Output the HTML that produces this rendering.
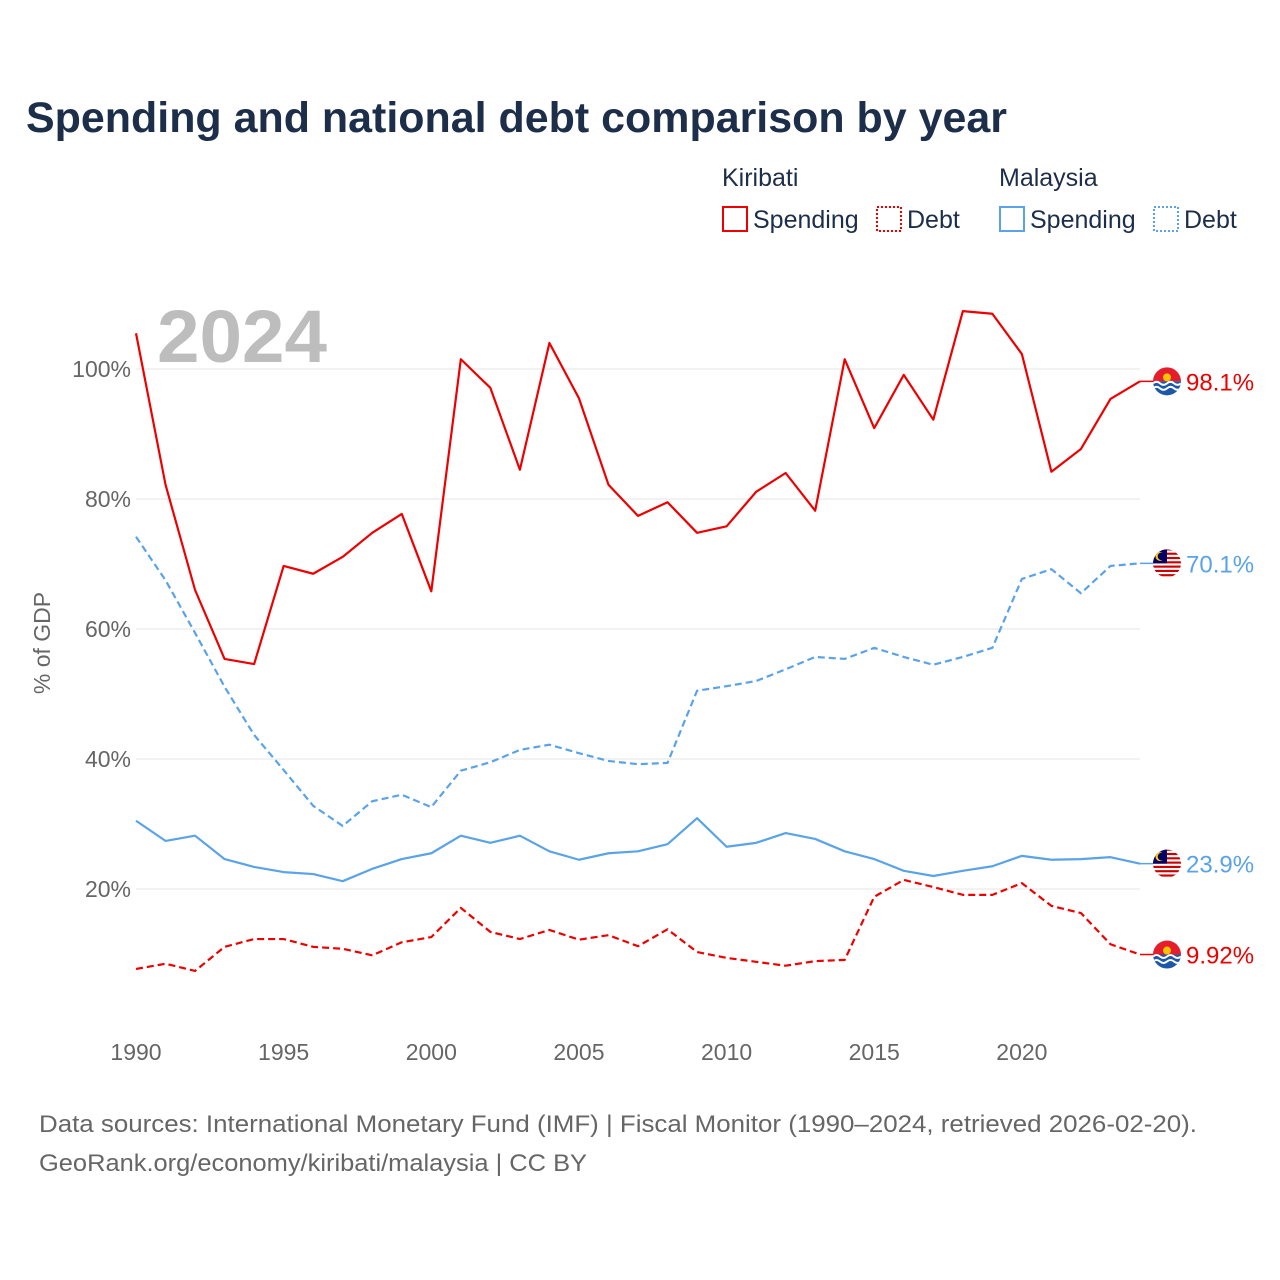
<!DOCTYPE html>
<html><head><meta charset="utf-8">
<style>
body{margin:0;background:#fff;font-family:"Liberation Sans",sans-serif}
#wrap{position:relative;width:1280px;height:1280px;overflow:hidden}
</style></head><body>
<div id="wrap">
<svg id="chart" width="1280" height="1280" xmlns="http://www.w3.org/2000/svg"></svg>
</div>
<script>
const years=[];for(let y=1990;y<=2024;y++)years.push(y);
const kirSpending=[105.5,82.2,66,55.4,54.6,69.7,68.5,71.1,74.8,77.7,65.8,101.5,97.1,84.5,104,95.5,82.2,77.4,79.5,74.8,75.8,81.1,84,78.2,101.5,90.9,99.1,92.2,108.9,108.5,102.3,84.2,87.7,95.4,98.1];
const kirDebt=[7.7,8.5,7.4,11.1,12.3,12.3,11.1,10.8,9.8,11.8,12.6,17.1,13.4,12.3,13.7,12.2,12.9,11.2,13.8,10.3,9.4,8.8,8.2,8.9,9.1,18.8,21.4,20.3,19.1,19.1,20.9,17.4,16.3,11.5,9.92];
const mysSpending=[30.5,27.4,28.2,24.6,23.4,22.6,22.3,21.2,23.1,24.6,25.5,28.2,27.1,28.2,25.8,24.5,25.5,25.8,26.9,30.9,26.5,27.1,28.6,27.7,25.8,24.6,22.8,22,22.8,23.5,25.1,24.5,24.6,24.9,23.9];
const mysDebt=[74.2,67.5,59.4,51.1,43.7,38.3,32.8,29.7,33.5,34.5,32.6,38.2,39.5,41.4,42.2,40.9,39.7,39.2,39.4,50.5,51.2,52,53.8,55.7,55.4,57.1,55.7,54.5,55.7,57.1,67.7,69.2,65.5,69.7,70.1];
const yTicks=[20,40,60,80,100];
const xTicks=[1990,1995,2000,2005,2010,2015,2020];
const endLabels=["98.1%","9.92%","23.9%","70.1%"];

const NS="http://www.w3.org/2000/svg";
const svg=document.getElementById('chart');
const X=y=>136+(y-1990)*(1140-136)/34;
const Y=v=>1019-v*6.5;
function el(t,a,p){const e=document.createElementNS(NS,t);for(const k in a)e.setAttribute(k,a[k]);(p||svg).appendChild(e);return e;}
function txt(s,a){const e=el('text',a);e.textContent=s;return e;}
const F='"Liberation Sans",sans-serif';

let t=txt("Spending and national debt comparison by year",{x:26,y:132,'font-size':43,'font-weight':'bold',fill:'#1c2e4a','font-family':F,textLength:981,lengthAdjust:'spacingAndGlyphs'});


const lg=[["Kiribati",722,"#e00"],["Malaysia",999,"#5aa3e8"]];
lg.forEach(([n,x,c],i)=>{
  let h=txt(n,{x:x,y:186,'font-size':25,fill:'#1c2e4a','font-family':F});
  
  let r=el('rect',{x:x+1,y:207,width:24,height:24,fill:'none',stroke:c,'stroke-width':2});
  
  let a=txt("Spending",{x:x+31,y:228,'font-size':25,fill:'#1c2e4a','font-family':F});
  
  let r2=el('rect',{x:x+155,y:207,width:24,height:24,fill:'none',stroke:c,'stroke-width':2,'stroke-dasharray':'2,2'});
  
  let b=txt("Debt",{x:x+185,y:228,'font-size':25,fill:'#1c2e4a','font-family':F});
  
});

yTicks.forEach(v=>{
  let g=el('line',{x1:136,x2:1140,y1:Y(v),y2:Y(v),stroke:'#e6e6e6','stroke-width':1});
  
  let l=txt(v+"%",{x:131,y:Y(v)+8,'text-anchor':'end','font-size':23,fill:'#666','font-family':F});
  
});
xTicks.forEach(v=>{
  let l=txt(String(v),{x:X(v),y:1060,'text-anchor':'middle','font-size':23,fill:'#666','font-family':F});
  
});
let yt=txt("% of GDP",{x:0,y:0,transform:'translate(50,643) rotate(-90)','text-anchor':'middle','font-size':23,fill:'#666','font-family':F});


let yr=txt("2024",{x:157,y:362,'font-size':74,'font-weight':'bold',fill:'#bdbdbd','font-family':F,textLength:170,lengthAdjust:'spacingAndGlyphs'});


const series=[[kirSpending,'#e00',null,'kiribati-spending-line'],[kirDebt,'#e00','7,4','kiribati-debt-line'],[mysSpending,'#5aa3e8',null,'malaysia-spending-line'],[mysDebt,'#5aa3e8','7,4','malaysia-debt-line']];
series.forEach(([d,c,da,n],i)=>{
  const pts=d.map((v,j)=>X(years[j])+','+Y(v)).join(' ');
  const a={points:pts,fill:'none',stroke:c,'stroke-width':2.2,'stroke-linejoin':'round'};
  if(da)a['stroke-dasharray']=da;
  let p=el('polyline',a);
  const last=d[d.length-1],ly=Y(last);
  let ln=el('line',{x1:1140,x2:1156,y1:ly,y2:ly,stroke:c,'stroke-width':1.5});
  
  const g=el('g',{transform:`translate(1167,${ly})`});
  
  el('clipPath',{id:'c'+i},g).appendChild(document.createElementNS(NS,'circle')).setAttribute('r',14);
  const gg=el('g',{'clip-path':`url(#c${i})`},g);
  if(i<2){
    el('rect',{x:-15,y:-15,width:30,height:15,fill:'#e41e2b'},gg);
    el('rect',{x:-15,y:0,width:30,height:15,fill:'#1d57a8'},gg);
    el('path',{d:'M-14 2 q3.5 -3 7 0 t7 0 t7 0 t7 0 M-14 7 q3.5 -3 7 0 t7 0 t7 0 t7 0',stroke:'#fff','stroke-width':2,fill:'none'},gg);
    el('circle',{cx:0,cy:-4,r:4,fill:'#f8c300'},gg);
  } else {
    el('rect',{x:-15,y:-15,width:30,height:30,fill:'#fff'},gg);
    for(let k=0;k<7;k++)el('rect',{x:-15,y:-15+k*4.3,width:30,height:2.15,fill:'#cc0000'},gg);
    el('rect',{x:-15,y:-15,width:15,height:15,fill:'#010066'},gg);
    el('circle',{cx:-7,cy:-7,r:4.5,fill:'#fc0'},gg);
    el('circle',{cx:-5.5,cy:-7,r:3.8,fill:'#010066'},gg);
  }
  let lbl=txt(endLabels[i],{x:1186,y:ly+9,'font-size':24,fill:c,'font-family':F});
  
});

let s1=txt("Data sources: International Monetary Fund (IMF) | Fiscal Monitor (1990–2024, retrieved 2026-02-20).",{x:39,y:1132,'font-size':24,fill:'#666','font-family':F,textLength:1158,lengthAdjust:'spacingAndGlyphs'});

let s2=txt("GeoRank.org/economy/kiribati/malaysia | CC BY",{x:39,y:1171,'font-size':24,fill:'#666','font-family':F,textLength:548,lengthAdjust:'spacingAndGlyphs'});

</script>
</body></html>
